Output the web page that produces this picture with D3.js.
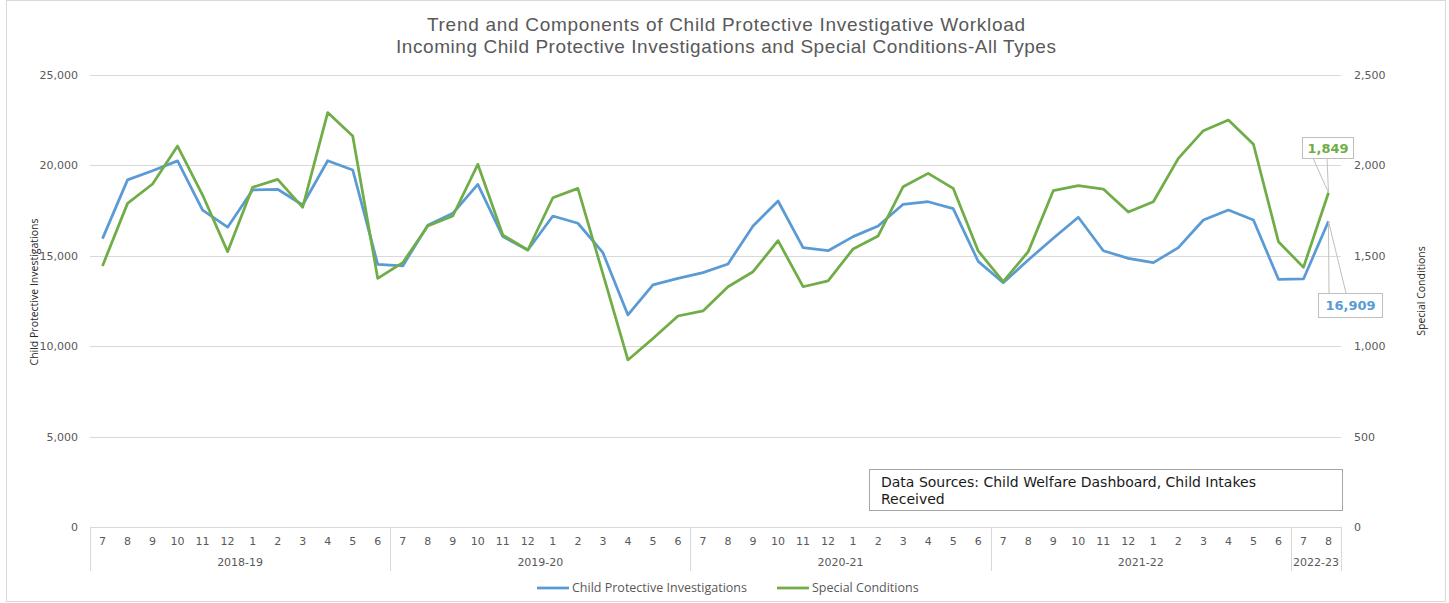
<!DOCTYPE html>
<html>
<head>
<meta charset="utf-8">
<script src="https://cdn.jsdelivr.net/npm/d3@7"></script>
<style>
  body { margin: 0; background: #fff; }
  svg { display: block; }
</style>
</head>
<body>
<svg id="chart" width="1449" height="603"></svg>
<script>
// fiscal years and the month order inside each one
const fiscalYears = ["2018-19", "2019-20", "2020-21", "2021-22", "2022-23"];
const monthLabels = [7, 8, 9, 10, 11, 12, 1, 2, 3, 4, 5, 6];

// Child Protective Investigations (left axis)
const cpi = [
  15950, 19200, 19700, 20250, 17530, 16580, 18640, 18680, 17810, 20260, 19750, 14530,
  14440, 16690, 17350, 18950, 16060, 15320, 17200, 16800, 15170, 11730, 13390, 13750,
  14070, 14550, 16650, 18030, 15450, 15280, 16060, 16650, 17850, 17990, 17610, 14690,
  13510, 14770, 15970, 17130, 15280, 14860, 14620, 15450, 16980, 17530, 16980, 13700,
  13720, 16909
];

// Special Conditions (right axis)
const sc = [
  1444, 1790, 1897, 2107, 1836, 1523, 1879, 1923, 1768, 2292, 2163, 1375,
  1462, 1665, 1720, 2006, 1615, 1532, 1821, 1873, 1400, 924, 1043, 1167,
  1195, 1329, 1412, 1584, 1329, 1361, 1538, 1610, 1882, 1956, 1873, 1527,
  1357, 1523, 1860, 1888, 1869, 1742, 1799, 2039, 2192, 2251, 2117, 1578,
  1436, 1849
];

const leftTicks = [0, 5000, 10000, 15000, 20000, 25000];
const rightTicks = [0, 500, 1000, 1500, 2000, 2500];

// build the category list (fy + month) from the arrays above
let categories = [];
fiscalYears.forEach(fy => monthLabels.forEach(m => categories.push({ fy: fy, m: m })));
categories = categories.slice(0, cpi.length);

const svg = d3.select("#chart");
const W = 1449, H = 603;
const m = { left: 90, right: 1341, top: 75, bottom: 527 };
const grey = "#595959", gridCol = "#d9d9d9";
const blue = "#5B9BD5", green = "#70AD47";
const tickFont = "DejaVu Sans, Verdana, sans-serif";
const textFont = "Open Sans, Noto Sans, sans-serif";

// outer frame
svg.append("rect")
  .attr("x", 6.5).attr("y", 0.5).attr("width", W - 10).attr("height", H - 2)
  .attr("fill", "#fff").attr("stroke", gridCol);

const x = d3.scaleBand().domain(d3.range(categories.length)).range([m.left, m.right]).padding(0);
const cx = i => x(i) + x.bandwidth() / 2;
const yL = d3.scaleLinear().domain([0, 25000]).range([m.bottom, m.top]);
const yR = d3.scaleLinear().domain([0, 2500]).range([m.bottom, m.top]);

// title (two lines, stretched a little to the width of the original)
const title = svg.append("text")
  .attr("text-anchor", "middle")
  .attr("fill", grey).attr("font-family", "Liberation Sans, Arial, sans-serif").attr("font-size", 19);
title.append("tspan").attr("x", 726).attr("y", 31)
  .attr("textLength", 598).attr("lengthAdjust", "spacing")
  .text("Trend and Components of Child Protective Investigative Workload");
title.append("tspan").attr("x", 726).attr("y", 53)
  .attr("textLength", 660).attr("lengthAdjust", "spacing")
  .text("Incoming Child Protective Investigations and Special Conditions-All Types");

// gridlines
svg.append("g")
  .selectAll("line")
  .data(leftTicks)
  .enter()
  .append("line")
    .attr("x1", m.left).attr("x2", m.right)
    .attr("y1", d => Math.round(yL(d)) + 0.5).attr("y2", d => Math.round(yL(d)) + 0.5)
    .attr("stroke", gridCol).attr("stroke-width", 1);

// left axis
const gl = svg.append("g")
  .attr("transform", `translate(${m.left},0)`)
  .call(d3.axisLeft(yL).tickValues(leftTicks).tickSize(0).tickPadding(12).tickFormat(d3.format(",")));
gl.select(".domain").remove();
gl.selectAll("text").attr("fill", grey).attr("font-family", tickFont).attr("font-size", 11);

// right axis
const gr = svg.append("g")
  .attr("transform", `translate(${m.right},0)`)
  .call(d3.axisRight(yR).tickValues(rightTicks).tickSize(0).tickPadding(13).tickFormat(d3.format(",")));
gr.select(".domain").remove();
gr.selectAll("text").attr("fill", grey).attr("font-family", tickFont).attr("font-size", 11);

// axis titles
svg.append("text")
  .attr("transform", "translate(38,292) rotate(-90)")
  .attr("text-anchor", "middle").attr("fill", "#262626")
  .attr("font-family", textFont).attr("font-size", 10.5)
  .text("Child Protective Investigations");
svg.append("text")
  .attr("transform", "translate(1425,291) rotate(-90)")
  .attr("text-anchor", "middle").attr("fill", "#262626")
  .attr("font-family", textFont).attr("font-size", 10.5)
  .text("Special Conditions");

// month axis
const gx = svg.append("g")
  .attr("transform", `translate(0,${m.bottom})`)
  .call(d3.axisBottom(x).tickSize(0).tickPadding(10).tickFormat(i => categories[i].m));
gx.select(".domain").remove();
gx.selectAll("text").attr("fill", grey).attr("font-family", tickFont).attr("font-size", 11);

// fiscal-year groups: separators and labels
const groups = fiscalYears.map(fy => {
  const idx = categories.map((c, i) => c.fy === fy ? i : -1).filter(i => i >= 0);
  return { fy: fy, start: x(idx[0]), end: x(idx[idx.length - 1]) + x.bandwidth() };
}).filter(g => !isNaN(g.start));

const bounds = [groups[0].start].concat(groups.map(g => g.end));
svg.append("g")
  .selectAll("line")
  .data(bounds)
  .enter()
  .append("line")
    .attr("x1", d => Math.round(d) + 0.5).attr("x2", d => Math.round(d) + 0.5)
    .attr("y1", m.bottom).attr("y2", 571)
    .attr("stroke", gridCol);

svg.append("g")
  .selectAll("text")
  .data(groups)
  .enter()
  .append("text")
    .attr("x", d => (d.start + d.end) / 2).attr("y", 566)
    .attr("text-anchor", "middle").attr("fill", grey)
    .attr("font-family", tickFont).attr("font-size", 11)
    .text(d => d.fy);

// series lines
const lineL = d3.line().x((d, i) => cx(i)).y(d => yL(d));
const lineR = d3.line().x((d, i) => cx(i)).y(d => yR(d));

svg.append("path").datum(cpi)
  .attr("d", lineL).attr("fill", "none")
  .attr("stroke", blue).attr("stroke-width", 2.75).attr("stroke-linejoin", "round");
svg.append("path").datum(sc)
  .attr("d", lineR).attr("fill", "none")
  .attr("stroke", green).attr("stroke-width", 2.75).attr("stroke-linejoin", "round");

// callouts for the last point of each series
const last = cpi.length - 1;
function callout(px, py, box, txt, col) {
  const g = svg.append("g");
  g.append("path")
    .attr("d", `M${box.lx1},${box.ly} L${px},${py} L${box.lx2},${box.ly}`)
    .attr("fill", "none").attr("stroke", "#bfbfbf").attr("stroke-width", 1);
  g.append("rect")
    .attr("x", box.x + 0.5).attr("y", box.y + 0.5).attr("width", box.w).attr("height", box.h)
    .attr("fill", "#fff").attr("stroke", "#bfbfbf");
  g.append("text")
    .attr("x", box.x + box.w / 2 + 0.5).attr("y", box.y + box.h / 2 + 5)
    .attr("text-anchor", "middle").attr("fill", col)
    .attr("font-family", tickFont).attr("font-weight", "bold").attr("font-size", 13)
    .text(d3.format(",")(txt));
}
callout(cx(last), yR(sc[last]),
  { x: 1302, y: 137, w: 51, h: 21, lx1: 1313, lx2: 1327, ly: 158 }, sc[last], green);
callout(cx(last), yL(cpi[last]),
  { x: 1318, y: 293, w: 64, h: 24, lx1: 1329, lx2: 1346, ly: 293 }, cpi[last], blue);

// data source note
svg.append("rect")
  .attr("x", 869.5).attr("y", 469.5).attr("width", 473).attr("height", 41)
  .attr("fill", "#fff").attr("stroke", "#a6a6a6");
const note = svg.append("text")
  .attr("fill", "#1a1a1a").attr("font-family", tickFont).attr("font-size", 14);
note.append("tspan").attr("x", 881).attr("y", 487).text("Data Sources: Child Welfare Dashboard, Child Intakes");
note.append("tspan").attr("x", 881).attr("y", 504).text("Received");

// legend
const legend = [
  { name: "Child Protective Investigations", col: blue, x: 537 },
  { name: "Special Conditions", col: green, x: 777 }
];
const lg = svg.append("g")
  .selectAll("g")
  .data(legend)
  .enter()
  .append("g")
    .attr("transform", d => `translate(${d.x},588)`);
lg.append("line")
  .attr("x1", 0).attr("x2", 32).attr("y1", 0).attr("y2", 0)
  .attr("stroke", d => d.col).attr("stroke-width", 2.75);
lg.append("text")
  .attr("x", 35).attr("y", 4)
  .attr("fill", grey).attr("font-family", textFont).attr("font-size", 12.5)
  .text(d => d.name);
</script>
</body>
</html>
